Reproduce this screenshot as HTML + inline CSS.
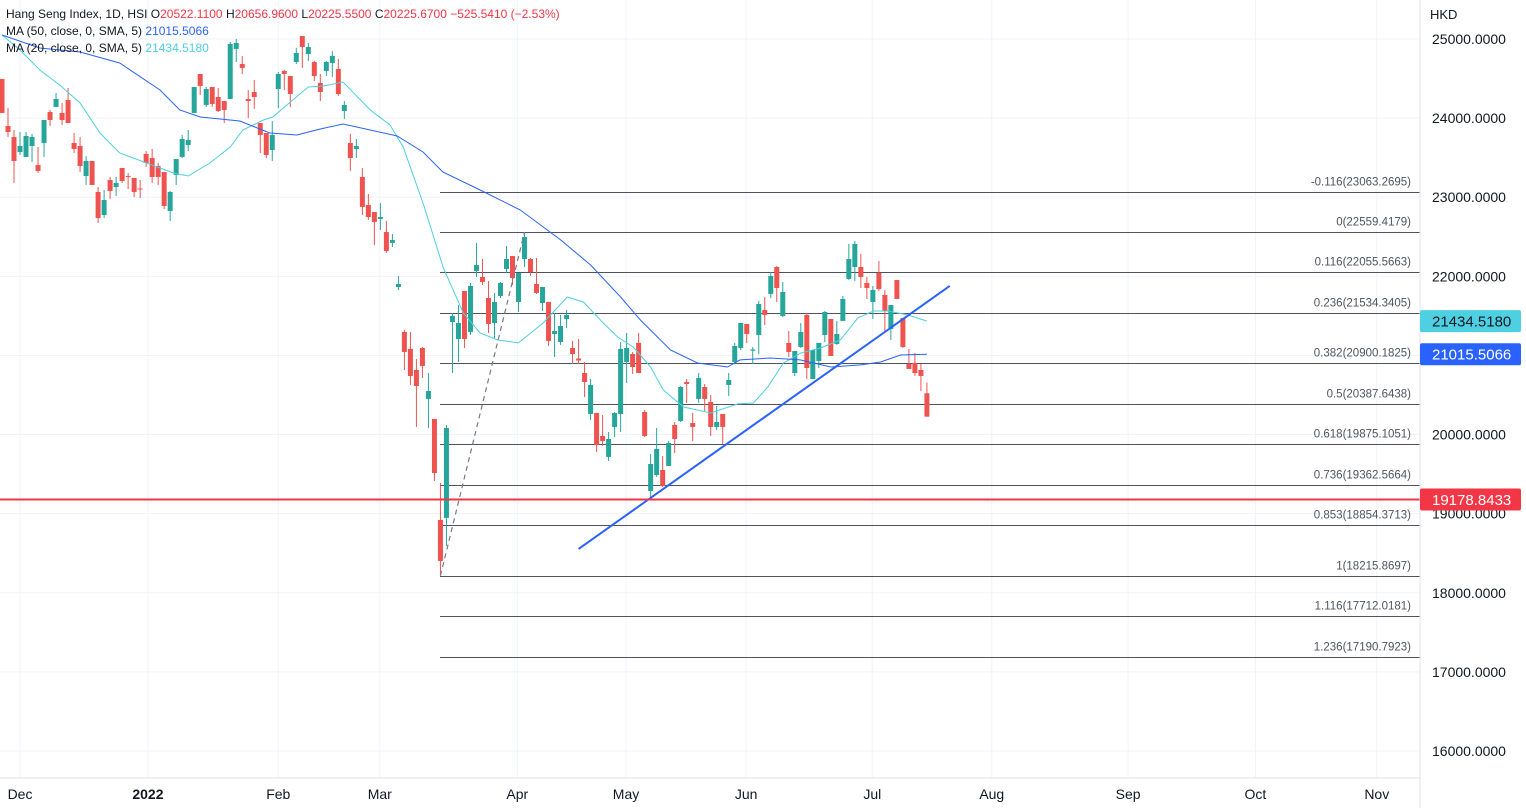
<!DOCTYPE html>
<html><head><meta charset="utf-8"><style>
html,body{margin:0;padding:0;background:#fff;}
svg{display:block;font-family:"Liberation Sans",sans-serif;}
</style></head><body>
<svg id="chart" width="1526" height="808" viewBox="0 0 1526 808" xmlns="http://www.w3.org/2000/svg">
<rect x="0" y="0" width="1526" height="808" fill="#ffffff"/>
<g id="grid"></g>
<g id="fib"></g>
<g id="series"></g>
<g id="overlay"></g>
<line x1="1420" y1="0" x2="1420" y2="808" stroke="#e0e3eb" stroke-width="1"/>
<line x1="0" y1="778" x2="1420" y2="778" stroke="#e0e3eb" stroke-width="1"/>
<g id="yaxis"></g>
<g id="xaxis"></g>
<text x="1430" y="19" font-size="13" fill="#131722">HKD</text>
<g font-size="12">
<text x="6" y="18" fill="#131722">Hang Seng Index, 1D, HSI <tspan fill="#131722">O</tspan><tspan fill="#f23645">20522.1100</tspan> <tspan fill="#131722">H</tspan><tspan fill="#f23645">20656.9600</tspan> <tspan fill="#131722">L</tspan><tspan fill="#f23645">20225.5500</tspan> <tspan fill="#131722">C</tspan><tspan fill="#f23645">20225.6700</tspan> <tspan fill="#f23645">−525.5410 (−2.53%)</tspan></text>
<text x="6" y="35" fill="#131722">MA (50, close, 0, SMA, 5) <tspan fill="#2962ff">21015.5066</tspan></text>
<text x="6" y="52" fill="#131722">MA (20, close, 0, SMA, 5) <tspan fill="#4dd0e1">21434.5180</tspan></text>
</g>
</svg>
<script>
const opens=[24494,23900,23761,23572,23509,23648,23407,23686,24077,24141,24065,24229,23686,23648,23268,23458,23066,22775,23218,23129,23370,23268,23243,23110,23547,23496,23395,23319,22826,23281,23509,23660,24065,24558,24166,24393,24267,24216,24242,24874,24684,24242,24330,23938,23812,23597,24368,24596,24532,24709,25038,24810,24709,24444,24596,24697,24621,24090,23686,23610,23256,22902,22813,22725,22560,22422,21865,21297,21082,20816,21094,20450,20197,18920,18946,21423,21208,21815,21297,22068,21992,21726,21410,21752,22093,22257,21676,22219,22219,21903,21663,21676,21271,21170,21461,21094,20961,20778,20260,20273,19982,19717,20096,20260,20917,21018,21158,20285,19287,19489,19552,19603,20121,20172,20664,20146,20450,20601,20412,20096,20260,20627,20917,21094,21398,21060,21259,21575,21777,22118,21499,21158,20778,21107,21512,20702,20930,21259,21461,21145,21436,21967,22118,22118,21916,21676,22042,21764,21334,21954,21474,20892,20905,20816,20522];
const highs=[24494,24128,23850,23825,23825,23799,23635,23976,24103,24317,24191,24381,23812,23761,23521,23458,23129,23091,23256,23256,23370,23306,23243,23218,23584,23610,23433,23319,23079,23483,23787,23850,24393,24558,24393,24393,24381,24216,24962,25000,24785,24355,24482,23938,23812,23964,24583,24608,24532,24886,25038,24950,24722,24558,24722,24848,24747,24216,23799,23736,23370,23041,22813,22927,22700,22535,22004,21322,21297,20955,21107,20778,20197,19388,20121,21537,21638,21815,21916,22422,22219,21941,21790,21929,22384,22257,22042,22559,22232,22232,21865,21676,21537,21512,21575,21183,21208,20917,20702,20273,20247,20032,20285,21170,21284,21044,21284,20311,19755,20083,19729,19919,20159,20614,20702,20273,20778,20639,20500,20361,20260,20778,21158,21410,21398,21107,21688,21739,22055,22131,21929,21309,21056,21410,21537,21069,21158,21562,21461,21436,21752,22409,22447,22283,21992,21878,22194,21827,21638,21954,21474,21082,21031,20892,20657];
const lows=[24065,23761,23180,23534,23509,23445,23306,23509,23900,24141,23913,23938,23559,23319,23155,23155,22674,22737,22978,23016,23180,23104,23003,22990,23382,23180,23155,22851,22700,23155,23496,23584,24065,24292,24141,24141,24077,23938,24242,24709,24558,24001,24115,23559,23496,23458,24128,24355,24141,24684,24634,24722,24469,24216,24532,24520,24280,23989,23332,23496,22775,22712,22396,22586,22295,22371,21827,20816,20627,20096,20715,20083,19413,18216,18592,20778,20917,21094,21259,21992,21891,21284,21208,21726,22042,21891,21549,22118,22004,21777,21562,21120,20980,21133,21347,20892,20892,20475,20184,19780,19856,19666,19969,20032,20652,20766,20778,19969,19190,19464,19337,19603,19767,20159,20399,19919,20399,20298,19982,20058,19881,20487,20905,21069,21158,20892,21018,21385,21726,21676,21486,20980,20740,21094,20702,20702,20841,21170,20993,21133,21436,21954,21941,21853,21714,21461,21815,21297,21196,21714,21094,20829,20740,20550,20226];
const closes=[24065,23825,23458,23648,23774,23761,23332,23976,23976,24242,23976,23938,23610,23395,23458,23155,22737,22965,23079,23180,23205,23255,23066,23100,23433,23256,23256,22889,23066,23483,23736,23723,24393,24406,24368,24178,24090,24103,24937,24950,24634,24216,24267,23787,23534,23787,24558,24558,24305,24823,24899,24899,24532,24330,24709,24785,24305,24166,23496,23648,22877,22750,22687,22750,22320,22460,21903,21044,20740,20614,20867,20551,19514,18402,20083,21499,21410,21208,21878,22143,21929,21398,21676,21916,22219,21979,22042,22497,22055,21790,21865,21183,21309,21372,21512,21018,20936,20664,20627,19868,19919,19944,20273,21082,21094,20854,20778,19982,19628,19818,19350,19894,19944,20601,20639,20096,20715,20450,20096,20159,20096,20690,21120,21410,21271,21075,21650,21512,22004,21853,21802,21044,21056,21297,20841,21069,21158,21549,20993,21271,21714,22219,22409,21992,21853,21827,21840,21562,21638,21714,21107,20829,20778,20740,20226];
// moving averages sampled at bar index
const ma50Idx=[0,6.3,13,19.6,26.3,29.6,33,39.6,44.6,49.1,53,56.8,61.3,65.8,70.1,73.4,79.6,86.3,93,98,103,106.3,111.3,115.8,120.8,122.9,127.9,132.9,138,143,146.3,149.6,154];
const ma50Val=[25051,24886,24836,24697,24355,24103,24014,23964,23812,23787,23862,23926,23850,23774,23572,23319,23091,22839,22460,22143,21739,21448,21069,20905,20854,20943,20968,20943,20854,20880,20917,21006,21015.5];
const ma20Idx=[0,3,6.3,9.6,13,16.3,19.6,24.1,28.5,31,34.6,38,40.1,43.5,45.1,48,51,53.5,56.8,61.3,64.6,66.8,70.1,73.5,76.8,79.6,82.5,86,90.1,94.1,96.8,100.1,102.5,105.1,108,110.1,113.5,118,122.5,125.1,127.5,130.1,133,136.3,139.6,142.5,145.1,147.5,150.8,154];
const ma20Val=[25051,24861,24608,24419,24191,23812,23559,23433,23306,23268,23433,23635,23850,23976,24014,24204,24393,24406,24457,24103,23913,23635,22927,22105,21537,21284,21196,21158,21410,21739,21676,21410,21233,21107,20854,20563,20348,20273,20387,20399,20601,20905,21031,21094,21196,21474,21562,21562,21512,21434.5];
const fibRatios=["-0.116","0","0.116","0.236","0.382","0.5","0.618","0.736","0.853","1","1.116","1.236"];
const fibLevels=[23063.2695,22559.4179,22055.5663,21534.3405,20900.1825,20387.6438,19875.1051,19362.5664,18854.3713,18215.8697,17712.0181,17190.7923];
const priceTicks=[25000,24000,23000,22000,21000,20000,19000,18000,17000,16000];
const monthLabels=["Dec","2022","Feb","Mar","Apr","May","Jun","Jul","Aug","Sep","Oct","Nov"];
const monthIdx=[3,24.3,46,62.9,85.8,103.9,123.9,144.9,164.8,187.5,208.7,228.9];
const trendIdx=[96,157.8];
const trendVal=[18554,21878];
const swingIdx=[73,87];
const swingVal=[18215.87,22559.42];
const hLineVal=19178.8433;

const NS="http://www.w3.org/2000/svg";
const Y=v=>39+(25000-v)*0.07911;
const X=i=>2+i*6.006;
function mk(tag,attrs,parent){const e=document.createElementNS(NS,tag);for(const k in attrs)e.setAttribute(k,attrs[k]);parent.appendChild(e);return e;}
const grid=document.getElementById('grid'),fib=document.getElementById('fib'),ser=document.getElementById('series'),ov=document.getElementById('overlay'),ya=document.getElementById('yaxis'),xa=document.getElementById('xaxis');

priceTicks.forEach(v=>{
  const g=mk('line',{x1:0,x2:1420,y1:Y(v),y2:Y(v),stroke:'#f0f3fa','stroke-width':1},grid);
  
  
  const t=mk('text',{x:1432,y:Y(v)+5,'font-size':14,fill:'#131722'},ya);
  t.textContent=v.toFixed(4);
  
  
});
monthLabels.forEach((m,k)=>{
  const x=X(monthIdx[k]);
  const g=mk('line',{x1:x,x2:x,y1:0,y2:778,stroke:'#f0f3fa','stroke-width':1},grid);
  
  
  const t=mk('text',{x:x,y:799,'font-size':14,fill:'#131722','text-anchor':'middle','font-weight':m==='2022'?'bold':'normal'},xa);
  t.textContent=m;
  
  
});
fibLevels.forEach((v,k)=>{
  const y=Math.round(Y(v))+0.5;
  const l=mk('line',{x1:440,x2:1420,y1:y,y2:y,stroke:'#50535e','stroke-width':1},fib);
  
  
  const t=mk('text',{x:1411,y:y-7,'font-size':11.5,fill:'#50535e','text-anchor':'end'},fib);
  t.textContent=fibRatios[k]+'('+v.toFixed(4)+')';
  
  
});
function maPath(idx,val,color,name){
  let d='';idx.forEach((i,k)=>{d+=(k?'L':'M')+X(i).toFixed(1)+','+Y(val[k]).toFixed(1);});
  const p=mk('path',{d:d,fill:'none',stroke:color,'stroke-width':1},ov);
  
  
}
maPath(ma20Idx,ma20Val,'#4dd0e1','ma20-line');
maPath(ma50Idx,ma50Val,'#2962ff','ma50-line');
opens.forEach((o,i)=>{
  const c=closes[i],up=c>=o,col=up?'#26a69a':'#ef5350',x=X(i);
  const w=mk('line',{x1:x,x2:x,y1:Y(highs[i]),y2:Y(lows[i]),stroke:col,'stroke-width':1},ser);
  
  
  const top=Y(Math.max(o,c)),bot=Y(Math.min(o,c));
  const b=mk('rect',{x:x-2.5,y:top,width:5,height:Math.max(1,bot-top),fill:col},ser);
  
  
});
const sw=mk('line',{x1:X(swingIdx[0]),y1:Y(swingVal[0]),x2:X(swingIdx[1]),y2:Y(swingVal[1]),stroke:'#787b86','stroke-width':1.2,'stroke-dasharray':'5,4'},ov);


const tl=mk('line',{x1:X(trendIdx[0]),y1:Y(trendVal[0]),x2:X(trendIdx[1]),y2:Y(trendVal[1]),stroke:'#2962ff','stroke-width':2},ov);


const hl=mk('line',{x1:0,x2:1420,y1:Y(hLineVal),y2:Y(hLineVal),stroke:'#f23645','stroke-width':2},ov);


function tag(v,bg,fg,name){
  const y=Y(v);
  const r=mk('rect',{x:1420,y:y-11,width:101,height:22,rx:2,fill:bg},ya);
  
  
  const t=mk('text',{x:1432,y:y+5.5,'font-size':15,fill:fg},ya);
  t.textContent=v.toFixed(4);
  
  
}
tag(ma20Val[ma20Val.length-1]+0.018,'#4dd0e1','#131722','ma20-price-tag');
tag(ma50Val[ma50Val.length-1]+0.0066,'#2962ff','#ffffff','ma50-price-tag');
tag(hLineVal,'#f23645','#ffffff','horizontal-line-price-tag');
</script>
</body></html>
